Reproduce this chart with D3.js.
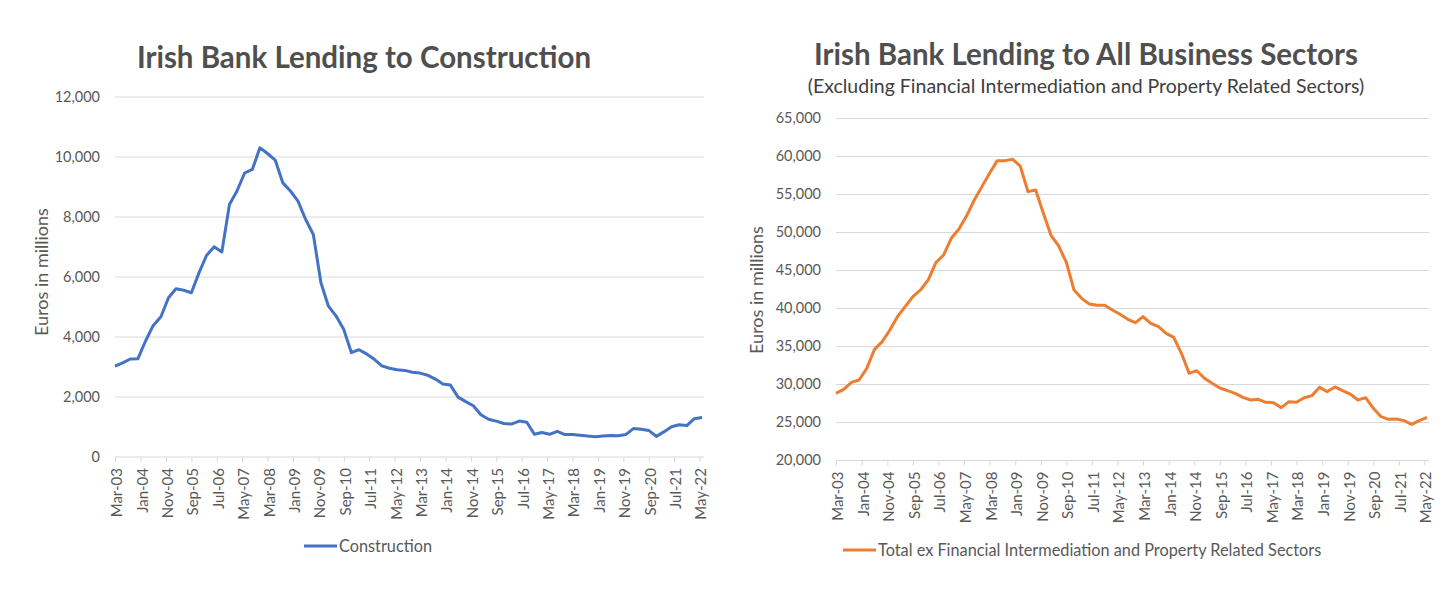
<!DOCTYPE html>
<html>
<head>
<meta charset="utf-8">
<script src="https://cdn.jsdelivr.net/npm/d3@7"></script>
<style>
  body { margin: 0; background: #fff; }
  svg { display: block; }
  .title { font-family: Lato, "Open Sans", sans-serif; font-weight: 700; fill: #4f4f4f; }
  .subtitle { font-family: Lato, "Open Sans", sans-serif; fill: #404040; }
  .axis text { font-family: Lato, "Open Sans", sans-serif; fill: #595959; }
  .axis-title, .legend-text { font-family: Lato, "Open Sans", sans-serif; fill: #595959; }
  .grid line { stroke: #d9d9d9; stroke-width: 1; }
</style>
</head>
<body>
<div id="chart-area"></div>
<script>
// Quarterly series, Mar-03 .. Jun-22 (78 quarters)
const constructionValues = [
  3010, 3120, 3250, 3260, 3850, 4370, 4660, 5290, 5590, 5540,
  5460, 6120, 6700, 6990, 6820, 8400, 8850, 9450, 9570, 10290,
  10100, 9880, 9120, 8850, 8510, 7900, 7400, 5790, 5010, 4680,
  4230, 3460, 3560, 3420, 3240, 3020, 2940, 2890, 2870, 2810,
  2780, 2710, 2580, 2420, 2380, 1980, 1830, 1690, 1390, 1240,
  1180, 1100, 1080, 1180, 1140, 740, 800, 740, 840, 730,
  730, 710, 680, 660, 680, 700, 690, 730, 930, 910,
  870, 670, 820, 990, 1060, 1030, 1260, 1300
];

const businessValues = [
  28770, 29300, 30220, 30530, 32060, 34560, 35570, 37100, 38860, 40180,
  41490, 42370, 43680, 45970, 46970, 49170, 50350, 52100, 54210, 55970,
  57720, 59390, 59390, 59560, 58680, 55310, 55530, 52460, 49600, 48160,
  46000, 42370, 41270, 40530, 40350, 40350, 39740, 39170, 38510, 38070,
  38860, 37980, 37540, 36670, 36140, 34040, 31400, 31750, 30750, 30090,
  29470, 29120, 28770, 28250, 27900, 27980, 27590, 27540, 26890, 27680,
  27590, 28200, 28470, 29560, 28990, 29610, 29120, 28680, 27900, 28200,
  26800, 25700, 25350, 25400, 25180, 24690, 25180, 25610
];

const constructionTicks = [0, 2000, 4000, 6000, 8000, 10000, 12000];
const businessTicks = [20000, 25000, 30000, 35000, 40000, 45000, 50000, 55000, 60000, 65000];

const firstQuarter = new Date(2003, 2, 1);
const lastQuarter = new Date(2022, 5, 1);
// x axis labels every 10 months, starting at Mar-03
const tickMonthStep = 10;

// one date per quarter (Mar, Jun, Sep, Dec)
const quarterDates = constructionValues.map((d, i) => d3.timeMonth.offset(firstQuarter, 3 * i));

class LendingLineVis {
  constructor(_svg, _config, _values) {
    this.svg = _svg;
    this.config = _config;
    this.values = _values;
    this.initVis();
  }

  initVis() {
    let vis = this;
    let c = vis.config;

    vis.g = vis.svg.append("g");

    vis.x = d3.scaleTime().domain([firstQuarter, lastQuarter]).range([c.left, c.right]);
    vis.y = d3.scaleLinear().domain(c.yDomain).range([c.bottom, c.top]);

    // Gridlines
    vis.g.append("g")
      .attr("class", "grid")
      .selectAll("line")
      .data(c.yTicks.slice(1))
      .join("line")
      .attr("x1", c.left)
      .attr("x2", c.right + 2)
      .attr("y1", d => vis.y(d) + 0.5)
      .attr("y2", d => vis.y(d) + 0.5);

    // Y axis labels
    vis.yAxis = d3.axisLeft(vis.y)
      .tickValues(c.yTicks)
      .tickSize(0)
      .tickPadding(15)
      .tickFormat(d3.format(","));

    vis.g.append("g")
      .attr("class", "y-axis axis")
      .attr("transform", "translate(" + c.left + ",0)")
      .call(vis.yAxis)
      .call(g => g.select(".domain").remove())
      .selectAll("text")
      .style("font-size", "14.5px");

    // X axis
    let xTickValues = d3.range(0, 232, tickMonthStep).map(m => d3.timeMonth.offset(firstQuarter, m));

    vis.xAxis = d3.axisBottom(vis.x)
      .tickValues(xTickValues)
      .tickSize(5)
      .tickPadding(6)
      .tickFormat(d3.timeFormat("%b-%y"));

    vis.g.append("g")
      .attr("class", "x-axis axis")
      .attr("transform", "translate(0," + (c.bottom + 0.5) + ")")
      .call(vis.xAxis)
      .call(g => g.select(".domain").attr("stroke", "#d9d9d9").attr("d", "M" + c.left + ",0H" + (c.right + 2)))
      .call(g => g.selectAll(".tick line").attr("stroke", "#d9d9d9"))
      .selectAll("text")
      .style("font-size", "15px")
      .style("text-anchor", "end")
      .attr("y", 0)
      .attr("dx", "-11px")
      .attr("dy", "6.5px")
      .attr("transform", "rotate(-90)");

    // Y axis title
    vis.g.append("text")
      .attr("class", "axis-title")
      .attr("transform", "translate(" + c.yTitleX + "," + c.yTitleY + ") rotate(-90)")
      .attr("text-anchor", "middle")
      .style("font-size", "18px")
      .text("Euros in millions");

    // Title and subtitle
    vis.g.append("text")
      .attr("class", "title")
      .attr("x", c.titleX)
      .attr("y", c.titleY)
      .attr("text-anchor", "middle")
      .style("font-size", "29.5px")
      .text(c.title);

    if (c.subtitle) {
      vis.g.append("text")
        .attr("class", "subtitle")
        .attr("x", c.titleX)
        .attr("y", c.subtitleY)
        .attr("text-anchor", "middle")
        .style("font-size", "19.5px")
        .text(c.subtitle);
    }

    // Line
    vis.line = d3.line()
      .x((d, i) => vis.x(quarterDates[i]))
      .y(d => vis.y(d));

    vis.g.append("path")
      .datum(vis.values)
      .attr("fill", "none")
      .attr("stroke", c.color)
      .attr("stroke-width", 3)
      .attr("stroke-linejoin", "round")
      .attr("d", vis.line);

    // Legend
    vis.legend = vis.g.append("g").attr("class", "legend");

    vis.legend.append("line")
      .attr("x1", c.legendX)
      .attr("x2", c.legendX + 33)
      .attr("y1", c.legendY)
      .attr("y2", c.legendY)
      .attr("stroke", c.color)
      .attr("stroke-width", 3);

    vis.legend.append("text")
      .attr("class", "legend-text")
      .attr("x", c.legendX + 35)
      .attr("y", c.legendY + 5.5)
      .style("font-size", "16.3px")
      .text(c.legendLabel);
  }
}

const svg = d3.select("#chart-area")
  .append("svg")
  .attr("width", 1456)
  .attr("height", 609);

new LendingLineVis(svg, {
  left: 115, right: 702, top: 96.5, bottom: 456.5,
  yDomain: [0, 12000], yTicks: constructionTicks,
  title: "Irish Bank Lending to Construction",
  titleX: 364, titleY: 68,
  yTitleX: 48, yTitleY: 272,
  color: "#4472c4",
  legendX: 304, legendY: 546,
  legendLabel: "Construction"
}, constructionValues);

new LendingLineVis(svg, {
  left: 836, right: 1427, top: 118, bottom: 460,
  yDomain: [20000, 65000], yTicks: businessTicks,
  title: "Irish Bank Lending to All Business Sectors",
  subtitle: "(Excluding Financial Intermediation and Property Related Sectors)",
  titleX: 1086, titleY: 65, subtitleY: 93,
  yTitleX: 763, yTitleY: 290,
  color: "#ed7d31",
  legendX: 843, legendY: 550,
  legendLabel: "Total ex Financial Intermediation and Property Related Sectors"
}, businessValues);
</script>
</body>
</html>
